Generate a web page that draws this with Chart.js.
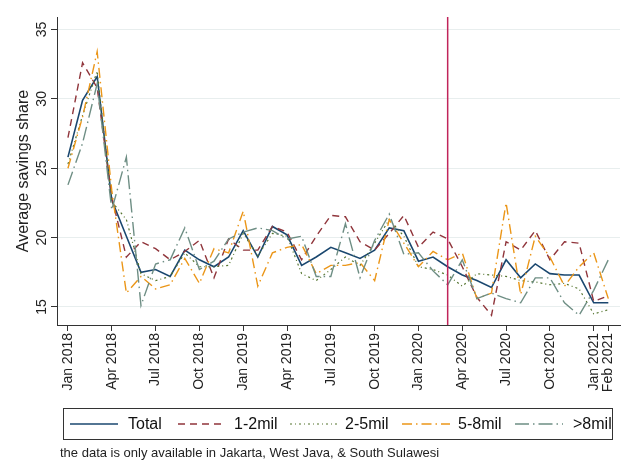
<!DOCTYPE html>
<html>
<head>
<meta charset="utf-8">
<script src="https://cdn.jsdelivr.net/npm/chart.js@4"></script>
<style>
html,body{margin:0;padding:0;background:#fff;}
#wrap{width:624px;height:461px;position:relative;}
</style>
</head>
<body>
<div id="wrap"><canvas id="c" width="624" height="461"></canvas></div>
<script>
const months = ["Jan 2018","Feb 2018","Mar 2018","Apr 2018","May 2018","Jun 2018","Jul 2018","Aug 2018","Sep 2018","Oct 2018","Nov 2018","Dec 2018",
"Jan 2019","Feb 2019","Mar 2019","Apr 2019","May 2019","Jun 2019","Jul 2019","Aug 2019","Sep 2019","Oct 2019","Nov 2019","Dec 2019",
"Jan 2020","Feb 2020","Mar 2020","Apr 2020","May 2020","Jun 2020","Jul 2020","Aug 2020","Sep 2020","Oct 2020","Nov 2020","Dec 2020",
"Jan 2021","Feb 2021"];
const xTickIdx = [0,3,6,9,12,15,18,21,24,27,30,33,36,37];
const yTicks = [15,20,25,30,35];
const eventIdx = 26; // Mar 2020

const total   = [25.8,29.9,31.6,22.7,20.1,17.5,17.7,17.2,19.1,18.4,17.9,18.6,20.5,18.6,20.8,20.2,18.0,18.6,19.3,18.9,18.5,19.1,20.7,20.5,18.3,18.6,17.9,17.3,16.9,16.4,18.4,17.1,18.1,17.4,17.3,17.3,15.3,15.3];
const mil1_2  = [27.2,32.6,30.8,22.9,18.6,19.7,19.2,18.4,19.0,19.8,17.1,19.9,19.1,19.1,20.8,20.4,18.4,20.1,21.6,21.5,19.7,19.1,20.3,21.6,19.3,20.4,19.9,17.9,15.7,14.4,19.7,19.1,20.5,18.4,19.7,19.6,15.4,15.8];
const mil2_5  = [25.3,28.8,32.0,22.6,21.3,17.4,16.9,17.2,18.9,17.9,17.9,18.0,20.3,18.7,20.3,20.1,17.4,16.9,17.7,18.6,18.0,19.6,21.3,20.1,17.9,17.7,17.3,16.5,17.4,17.3,17.2,16.9,16.8,16.6,16.7,16.3,14.5,14.8];
const mil5_8  = [25.0,28.7,33.4,23.4,16.0,17.2,16.3,16.6,18.5,16.7,19.2,18.9,21.9,16.5,18.9,19.3,19.5,17.4,18.0,18.0,18.2,16.9,21.3,19.6,17.9,19.0,18.4,18.9,15.6,16.0,22.5,15.9,20.1,18.6,16.5,17.9,18.9,15.6];
const mil8    = [23.8,26.8,31.1,22.0,25.8,15.1,18.1,18.4,20.7,17.7,18.3,19.9,20.4,20.7,20.5,19.9,20.1,17.2,17.2,21.0,17.1,19.8,21.7,18.8,18.9,17.6,16.6,18.4,15.6,16.0,15.6,15.3,17.1,17.1,15.3,14.4,16.2,18.4];

const seriesNames = ["Total","1-2mil","2-5mil","5-8mil",">8mil"];
const seriesData = [total, mil1_2, mil2_5, mil5_8, mil8];
const colors = ["#1a476f","#90353b","#55752f","#eb9618","#6e8e84"];
const dashes = [[],[7,5],[2,3,1,3],[10,4,1.5,4],[14,4,1.5,4]];
const widths = [1.6,1.4,1.2,1.4,1.4];

const FONT = "'Liberation Sans', Arial, sans-serif";

const datasets = seriesData.map((arr,k)=>({
  label: seriesNames[k],
  data: arr.map((v,i)=>({x:i,y:v})),
  borderColor: colors[k],
  backgroundColor: colors[k],
  borderDash: dashes[k],
  borderWidth: widths[k],
  pointRadius: 0,
  tension: 0,
  fill: false,
  order: 5-k
}));

const extras = {
  id: 'extras',
  afterDatasetsDraw(chart){
    const ctx = chart.ctx, xs = chart.scales.x, ca = chart.chartArea;
    const px = xs.getPixelForValue(eventIdx);
    ctx.save();
    ctx.strokeStyle = '#c0245a';
    ctx.lineWidth = 1.5;
    ctx.beginPath(); ctx.moveTo(px, ca.top); ctx.lineTo(px, ca.bottom); ctx.stroke();
    ctx.restore();
  },
  afterDraw(chart){
    const ctx = chart.ctx, ys = chart.scales.y;
    ctx.save();
    ctx.fillStyle = '#222';
    ctx.font = '14px ' + FONT;
    ctx.textAlign = 'center';
    ctx.textBaseline = 'middle';
    yTicks.forEach(v=>{
      const py = ys.getPixelForValue(v);
      ctx.save(); ctx.translate(42, py); ctx.rotate(-Math.PI/2); ctx.fillText(String(v), 0, 0); ctx.restore();
    });
    const bx = 63.5, by = 408.5, bw = 549, bh = 31;
    ctx.strokeStyle = '#333'; ctx.lineWidth = 1;
    ctx.strokeRect(bx, by, bw, bh);
    const items = [[70,118,128],[178,226,234],[290,340,345],[402,450,458],[515,563,573]];
    const ly = 424;
    ctx.font = '16px ' + FONT;
    ctx.textAlign = 'left';
    ctx.textBaseline = 'middle';
    items.forEach((it,k)=>{
      ctx.save();
      ctx.strokeStyle = colors[k]; ctx.lineWidth = widths[k]; ctx.setLineDash(dashes[k]);
      ctx.beginPath(); ctx.moveTo(it[0], ly); ctx.lineTo(it[1], ly); ctx.stroke();
      ctx.restore();
      ctx.fillStyle = '#111';
      ctx.fillText(seriesNames[k], it[2], ly + 1);
    });
    ctx.font = '13px ' + FONT;
    ctx.fillStyle = '#222';
    ctx.fillText('the data is only available in Jakarta, West Java, & South Sulawesi', 60, 453);
    ctx.restore();
  }
};

new Chart(document.getElementById('c'), {
  type: 'line',
  data: { datasets },
  plugins: [extras],
  options: {
    responsive: false,
    animation: false,
    layout: { padding: { top: 17, right: 4, bottom: 61, left: 0 } },
    plugins: { legend: { display: false }, tooltip: { enabled: false } },
    scales: {
      x: {
        type: 'linear',
        min: -0.75, max: 37.8,
        afterBuildTicks: s => { s.ticks = xTickIdx.map(v=>({value:v})); },
        afterFit: s => { s.height = 75; s.paddingRight = 0; s.paddingLeft = 0; },
        ticks: {
          autoSkip: false, minRotation: 90, maxRotation: 90, padding: 2,
          color: '#222', font: { size: 14, family: FONT },
          callback: v => months[v]
        },
        grid: { drawOnChartArea: false, drawTicks: true, tickLength: 6, tickColor: '#333', tickWidth: 1 },
        border: { display: true, color: '#333', width: 1 }
      },
      y: {
        min: 13.7, max: 35.9,
        afterBuildTicks: s => { s.ticks = yTicks.map(v=>({value:v})); },
        afterFit: s => { s.width = 57; },
        ticks: { display: false },
        title: { display: true, text: 'Average savings share', color: '#222', font: { size: 16, family: FONT }, padding: { top: 14, bottom: 0 } },
        grid: { drawOnChartArea: true, color: '#e8eeee', lineWidth: 1, drawTicks: true, tickLength: 6, tickColor: '#333' },
        border: { display: true, color: '#333', width: 1 }
      }
    }
  }
});
</script>
</body>
</html>
